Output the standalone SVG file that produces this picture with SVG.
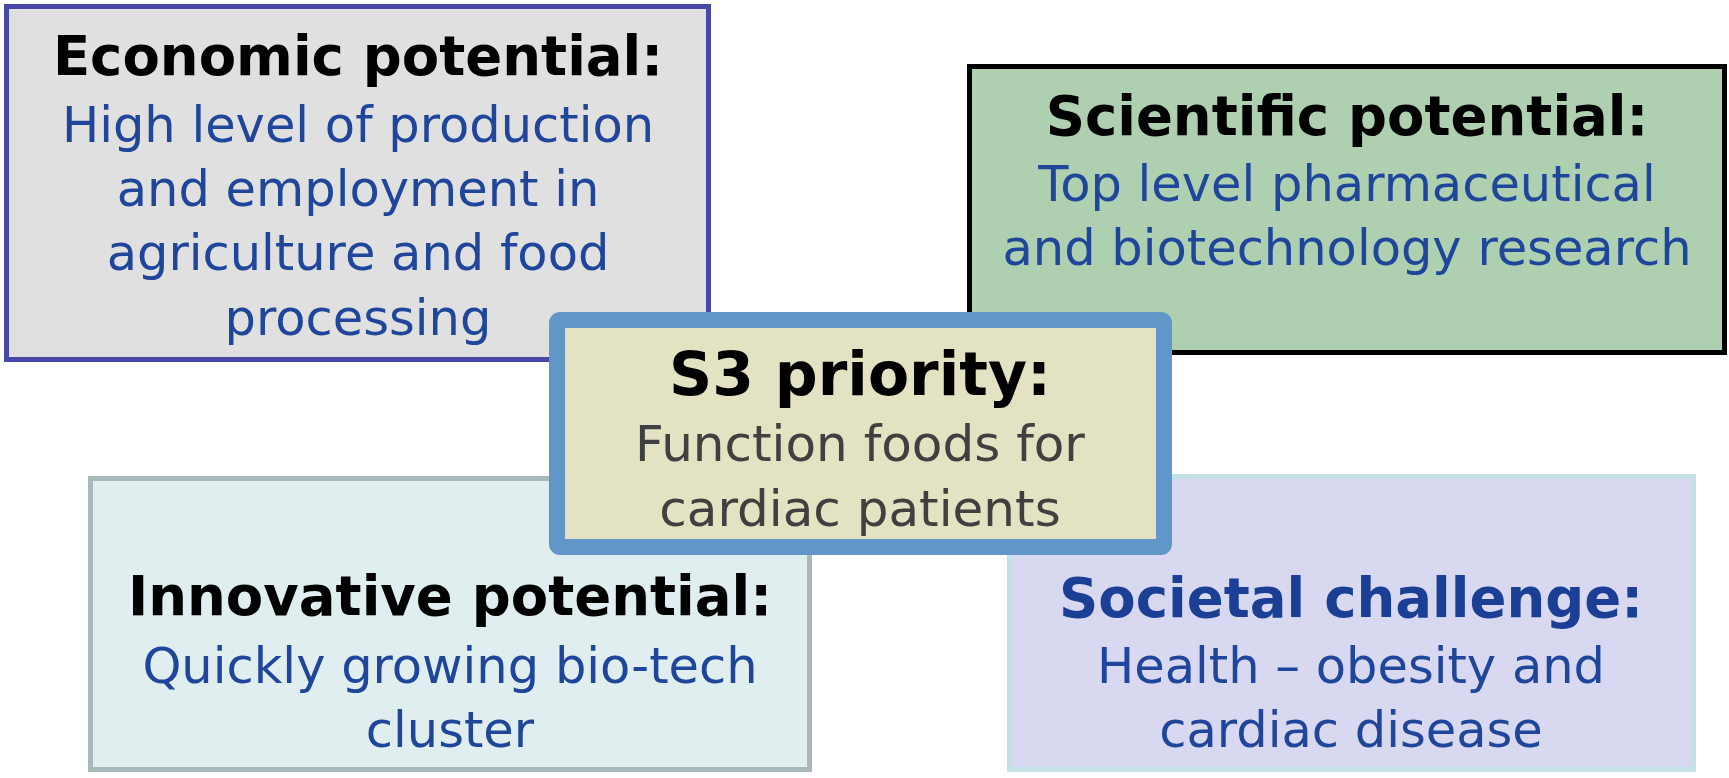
<svg xmlns="http://www.w3.org/2000/svg" width="1729" height="778" viewBox="0 0 1729 778">
<style>
text{font-family:"DejaVu Sans","Verdana",sans-serif;text-anchor:middle}
.t{font-weight:bold;font-size:54.5px;fill:#000}
.b{font-size:49.5px;fill:#1f469a}
.box{stroke-width:5}
</style>
<rect width="1729" height="778" fill="#fff"/>
<g id="economic">
<rect class="box" x="6.5" y="6.5" width="702" height="353" fill="#e0e0e0" stroke="#4848a8"/>
<text class="t" x="358" y="75">Economic potential:</text>
<text class="b" x="358" y="142">High level of production</text>
<text class="b" x="358" y="206">and employment in</text>
<text class="b" x="358" y="270">agriculture and food</text>
<text class="b" x="358" y="335">processing</text>
</g>
<g id="scientific">
<rect class="box" x="969.5" y="66.5" width="755" height="286" fill="#aed0b0" stroke="#000"/>
<text class="t" x="1347" y="135">Scientific potential:</text>
<text class="b" x="1347" y="201">Top level pharmaceutical</text>
<text class="b" x="1347" y="265">and biotechnology research</text>
</g>
<g id="innovative">
<rect class="box" x="90.5" y="478.5" width="719" height="291" fill="#e0eef0" stroke="#a9b8b8"/>
<text class="t" x="450" y="615">Innovative potential:</text>
<text class="b" x="450" y="683">Quickly growing bio-tech</text>
<text class="b" x="450" y="747">cluster</text>
</g>
<g id="societal">
<rect class="box" x="1009.5" y="476.5" width="684" height="293" fill="#d8d8f1" stroke="#c4e2e6"/>
<text class="t" x="1351" y="617" style="fill:#1a3f94">Societal challenge:</text>
<text class="b" x="1351" y="683">Health – obesity and</text>
<text class="b" x="1351" y="747">cardiac disease</text>
</g>
<g id="connectors"></g>
<g id="s3priority">
<rect x="557" y="320" width="607" height="227" rx="3" fill="#e3e3c3" stroke="#6196c8" stroke-width="16"/>
<text x="860" y="395" style="font-weight:bold;font-size:60px;fill:#000">S3 priority:</text>
<text x="860" y="461" style="font-size:50px;fill:#404040">Function foods for</text>
<text x="860" y="526" style="font-size:50px;fill:#404040">cardiac patients</text>
</g>
</svg>
